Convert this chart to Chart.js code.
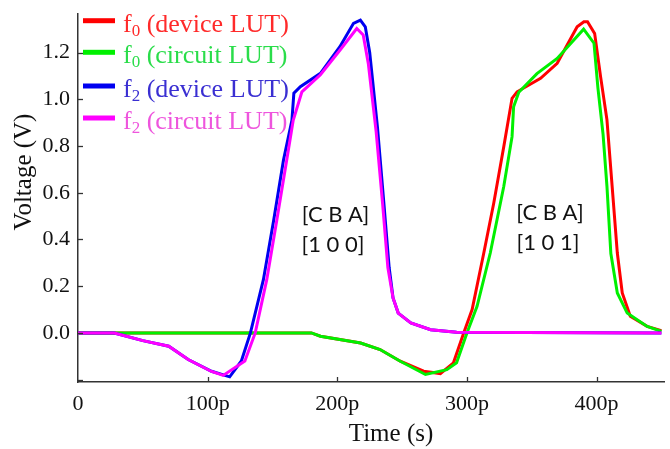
<!DOCTYPE html>
<html>
<head>
<meta charset="utf-8">
<script src="https://cdn.jsdelivr.net/npm/chart.js@4.4.0/dist/chart.umd.min.js"></script>
<style>
  html, body { margin: 0; padding: 0; background: #fff; }
  #wrap { width: 670px; height: 449px; }
</style>
</head>
<body>
<div id="wrap"><canvas id="myChart" width="670" height="449"></canvas></div>
<script>
// time in ps, voltage in V
var f0DeviceT  = [0, 180, 187, 218, 233, 248.6, 266.6, 279.5, 289.6, 297.5, 304, 313, 320.7, 328.4, 334.8, 338.7, 356.8, 369.6, 385, 390.2, 393, 398.5, 403, 408, 412, 416, 419.8, 426, 439, 450];
var f0DeviceV  = [0, 0, -0.014, -0.043, -0.071, -0.121, -0.164, -0.174, -0.128, 0, 0.1, 0.342, 0.556, 0.797, 1.004, 1.032, 1.09, 1.154, 1.31, 1.332, 1.332, 1.282, 1.1, 0.912, 0.627, 0.342, 0.171, 0.071, 0.028, 0.01];

var f0CircuitT = [0, 180, 187, 218, 233, 248.6, 268, 284.5, 292, 300, 307.8, 318, 328.4, 334.8, 336, 340, 354, 369.6, 390, 398, 401, 405, 408, 411, 416, 423.6, 439, 450];
var f0CircuitV = [0, 0, -0.014, -0.043, -0.071, -0.121, -0.178, -0.157, -0.128, 0, 0.114, 0.342, 0.627, 0.84, 0.968, 1.03, 1.11, 1.175, 1.3, 1.24, 1.05, 0.85, 0.627, 0.34, 0.171, 0.085, 0.028, 0.007];

var f2DeviceT  = [0, 28, 50, 70, 85, 103, 117, 126, 133, 143, 151, 158.5, 165, 166.5, 171.5, 187, 202, 212.5, 217.8, 221.6, 225, 231, 236, 240, 243, 247, 256.7, 272, 292, 450];
var f2DeviceV  = [0, 0, -0.033, -0.057, -0.114, -0.164, -0.188, -0.12, 0, 0.228, 0.484, 0.74, 0.91, 1.026, 1.054, 1.111, 1.225, 1.325, 1.339, 1.31, 1.2, 0.88, 0.55, 0.28, 0.15, 0.085, 0.043, 0.014, 0.003, 0];

var f2CircuitT = [0, 28, 50, 70, 85, 103, 112, 128.7, 136.7, 145.6, 153.4, 161, 166, 172.7, 187, 202, 215, 220, 224, 230, 235, 239, 243, 247, 256.7, 272, 292, 450];
var f2CircuitV = [0, 0, -0.033, -0.057, -0.114, -0.165, -0.182, -0.12, 0, 0.228, 0.484, 0.74, 0.91, 1.032, 1.105, 1.21, 1.303, 1.275, 1.15, 0.86, 0.55, 0.28, 0.15, 0.085, 0.043, 0.014, 0.003, 0];

var seriesNames = ['(device LUT)', '(circuit LUT)', '(device LUT)', '(circuit LUT)'];
var seriesSubs  = ['0', '0', '2', '2'];
var xTickLabels = {0: '0', 100: '100p', 200: '200p', 300: '300p', 400: '400p'};
var yTickValues = [-0.2, 0, 0.2, 0.4, 0.6, 0.8, 1.0, 1.2];

var lineColors = ['#ff0000', '#00f000', '#0000f0', '#ff00ff'];
var textColors = ['#ff2a2a', '#2add4a', '#3a2fd2', '#ee55dd'];

function pts(t, v) {
  return t.map(function(x, i){ return {x: x, y: v[i]}; });
}

var serif = "'Liberation Serif', serif";
Chart.defaults.font.family = serif;
Chart.defaults.font.size = 22;
Chart.defaults.color = '#111';

var drawExtras = {
  id: 'drawExtras',
  afterDraw: function(chart) {
    var ctx = chart.ctx;
    var xs = chart.scales.x, ys = chart.scales.y;
    var area = chart.chartArea;
    ctx.save();
    // inward ticks
    ctx.strokeStyle = '#333';
    ctx.lineWidth = 1.3;
    [100, 200, 300, 400].forEach(function(v){
      var px = Math.round(xs.getPixelForValue(v)) + 0.5;
      ctx.beginPath(); ctx.moveTo(px, area.bottom); ctx.lineTo(px, area.bottom - 5); ctx.stroke();
    });
    yTickValues.forEach(function(v){
      var py = Math.round(ys.getPixelForValue(v)) + 0.5;
      ctx.beginPath(); ctx.moveTo(area.left, py); ctx.lineTo(area.left + 5, py); ctx.stroke();
    });

    // axis titles
    ctx.fillStyle = '#111';
    ctx.font = '25px ' + serif;
    ctx.textAlign = 'center';
    ctx.textBaseline = 'middle';
    ctx.fillText('Time (s)', 391, 434);
    ctx.save();
    ctx.translate(24, 172);
    ctx.rotate(-Math.PI / 2);
    ctx.fillText('Voltage (V)', 0, 0);
    ctx.restore();

    // legend
    var rows = [20.7, 52.3, 86, 118];
    for (var i = 0; i < 4; i++) {
      var y = rows[i];
      ctx.strokeStyle = lineColors[i];
      ctx.lineWidth = 5;
      ctx.beginPath(); ctx.moveTo(83, y); ctx.lineTo(115, y); ctx.stroke();
      ctx.fillStyle = textColors[i];
      ctx.textAlign = 'left';
      ctx.textBaseline = 'alphabetic';
      ctx.font = '26px ' + serif;
      var x = 123;
      ctx.fillText('f', x, y + 11);
      x += ctx.measureText('f').width;
      ctx.font = '17px ' + serif;
      ctx.fillText(seriesSubs[i], x, y + 15);
      x += ctx.measureText(seriesSubs[i]).width;
      ctx.font = '26px ' + serif;
      ctx.fillText(' ' + seriesNames[i], x, y + 11);
    }

    // annotations
    ctx.fillStyle = '#111';
    ctx.font = '22px Lato, "Open Sans", sans-serif';
    ctx.textAlign = 'center';
    ctx.textBaseline = 'middle';
    ctx.fillText('[C B A]', 335.5, 215);
    ctx.fillText('[1 0 0]', 333, 245);
    ctx.fillText('[C B A]', 550, 213);
    ctx.fillText('[1 0 1]', 548, 243);
    ctx.restore();
  }
};

var ctx = document.getElementById('myChart');
var myChart = new Chart(ctx, {
  type: 'line',
  data: {
    datasets: [
      { label: 'f0 (device LUT)',  data: pts(f0DeviceT, f0DeviceV),   borderColor: lineColors[0], order: 4 },
      { label: 'f0 (circuit LUT)', data: pts(f0CircuitT, f0CircuitV), borderColor: lineColors[1], order: 3 },
      { label: 'f2 (device LUT)',  data: pts(f2DeviceT, f2DeviceV),   borderColor: lineColors[2], order: 2 },
      { label: 'f2 (circuit LUT)', data: pts(f2CircuitT, f2CircuitV), borderColor: lineColors[3], order: 1 }
    ]
  },
  options: {
    responsive: false,
    animation: false,
    events: [],
    elements: {
      line: { borderWidth: 3, tension: 0, fill: false },
      point: { radius: 0 }
    },
    layout: { padding: { left: 0, right: 6, top: 14, bottom: 0 } },
    plugins: {
      legend: { display: false },
      tooltip: { enabled: false }
    },
    scales: {
      x: {
        type: 'linear',
        min: 0,
        max: 452,
        grid: { display: false, drawTicks: false },
        border: { display: true, color: '#333', width: 1.5 },
        ticks: {
          stepSize: 100,
          includeBounds: false,
          padding: 9,
          maxRotation: 0,
          autoSkip: false,
          font: { family: serif, size: 22 },
          callback: function(v){ return xTickLabels[v] !== undefined ? xTickLabels[v] : ''; }
        },
        afterFit: function(scale){ scale.height = 67; scale.paddingLeft = 0; scale.paddingRight = 0; }
      },
      y: {
        type: 'linear',
        min: -0.21,
        max: 1.365,
        grid: { display: false, drawTicks: false },
        border: { display: true, color: '#333', width: 1.5 },
        ticks: {
          stepSize: 0.2,
          includeBounds: false,
          padding: 8,
          font: { family: serif, size: 22 },
          callback: function(v){ return v < -0.1 ? '' : v.toFixed(1); }
        },
        afterFit: function(scale){ scale.width = 78; scale.paddingTop = 0; scale.paddingBottom = 0; }
      }
    }
  },
  plugins: [drawExtras]
});
</script>
</body>
</html>
